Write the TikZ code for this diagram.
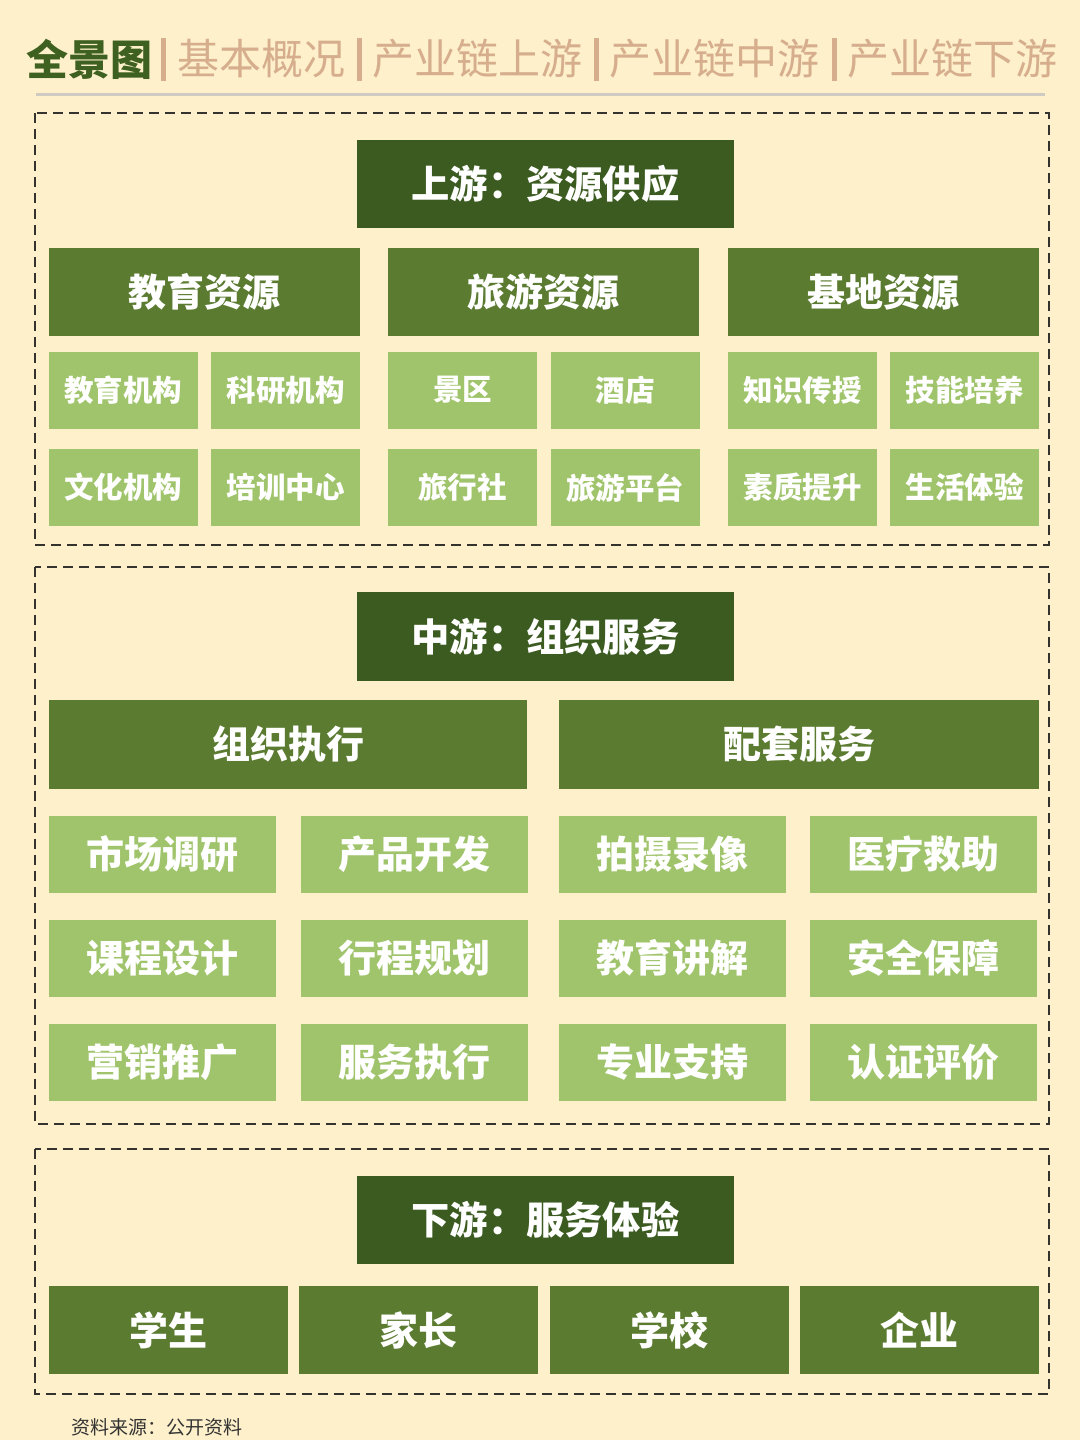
\documentclass[tikz,border=0pt]{standalone}
\usepackage{fontspec}
\setmainfont{Noto Sans CJK SC}
\newfontfamily\cjk{Noto Sans CJK SC}
\definecolor{bg}{HTML}{FDF0CA}
\definecolor{dkgreen}{HTML}{3B5B20}
\definecolor{mdgreen}{HTML}{5B7B31}
\definecolor{ltgreen}{HTML}{A0C46B}
\definecolor{tan}{HTML}{D6AE8E}
\definecolor{hdgreen}{HTML}{3E6020}
\definecolor{rule}{HTML}{CFCBC2}
\definecolor{dash}{HTML}{35332F}
\begin{document}
\begin{tikzpicture}[x=1pt,y=-1pt,
  box/.style={draw=none,inner sep=0pt,text=white,font=\cjk\bfseries},
  titlebox/.style={box,fill=dkgreen},
  midbox/.style={box,fill=mdgreen},
  smallbox/.style={box,fill=ltgreen},
  section/.style={draw=dash,line width=2.4pt,dash pattern=on 10pt off 6pt},
  tabtext/.style={anchor=west,inner sep=0pt,text=tan,font=\cjk\fontsize{42}{42}\selectfont},
  tabbar/.style={draw=tan,line width=5pt}
]
\fill[bg] (0,0) rectangle (1080,1440);
\useasboundingbox (0,0) rectangle (1080,1440);
% header
\node[anchor=west,inner sep=0pt,text=hdgreen,font=\cjk\bfseries\fontsize{42}{42}\selectfont] (h0) at (26,59) {全景图};
\coordinate (b1t) at (163,38); \coordinate (b1b) at (163,81);
\coordinate (b2t) at (359,38); \coordinate (b2b) at (359,81);
\coordinate (b3t) at (596,38); \coordinate (b3b) at (596,81);
\coordinate (b4t) at (834,38); \coordinate (b4b) at (834,81);
\draw[tabbar] (b1t) -- (b1b);
\draw[tabbar] (b2t) -- (b2b);
\draw[tabbar] (b3t) -- (b3b);
\draw[tabbar] (b4t) -- (b4b);
\node[tabtext] (h1) at (177,59) {基本概况};
\node[tabtext] (h2) at (372,59) {产业链上游};
\node[tabtext] (h3) at (609,59) {产业链中游};
\node[tabtext] (h4) at (847,59) {产业链下游};
\coordinate (rl) at (36,94); \coordinate (rr) at (1045,94);
\draw[rule,line width=3pt] (rl) -- (rr);

% sections
\draw[section] (35,113) rectangle (1049,545);
\draw[section] (35,567) rectangle (1049,1124);
\draw[section] (35,1149) rectangle (1049,1394);

% upstream
\node[titlebox,minimum width=377pt,minimum height=88pt,font=\cjk\bfseries\fontsize{38.3}{38}\selectfont] (up) at (545.5,184) {上游：资源供应};
\foreach \n/\t/\x in {u1/教育资源/204.5,u2/旅游资源/543.5,u3/基地资源/883.5}
  \node[midbox,minimum width=311pt,minimum height=88pt,font=\cjk\bfseries\fontsize{38}{38}\selectfont] (\n) at (\x,292) {\t};
\foreach \n/\t/\x/\y in {
  s1/教育机构/123/390, s2/科研机构/285.5/390, s3/景区/462.5/390, s4/酒店/625/390, s5/知识传授/802.5/390, s6/技能培养/964.5/390,
  s7/文化机构/123/487.5, s8/培训中心/285.5/487.5, s9/旅行社/462.5/487.5, s10/旅游平台/625/487.5, s11/素质提升/802.5/487.5, s12/生活体验/964.5/487.5}
  \node[smallbox,minimum width=149pt,minimum height=77pt,font=\cjk\bfseries\fontsize{29.5}{29.5}\selectfont] (\n) at (\x,\y) {\t};

% midstream
\node[titlebox,minimum width=377pt,minimum height=89pt,font=\cjk\bfseries\fontsize{38.3}{38}\selectfont] (mid) at (545.5,636.5) {中游：组织服务};
\node[midbox,minimum width=478pt,minimum height=89pt,font=\cjk\bfseries\fontsize{38}{38}\selectfont] (m1) at (288,744.5) {组织执行};
\node[midbox,minimum width=480pt,minimum height=89pt,font=\cjk\bfseries\fontsize{38}{38}\selectfont] (m2) at (799,744.5) {配套服务};
\foreach \n/\t/\x/\y in {
  t1/市场调研/162.5/854, t2/产品开发/414/854, t3/拍摄录像/672.5/854, t4/医疗救助/923.5/854,
  t5/课程设计/162.5/958, t6/行程规划/414/958, t7/教育讲解/672.5/958, t8/安全保障/923.5/958,
  t9/营销推广/162.5/1062, t10/服务执行/414/1062, t11/专业支持/672.5/1062, t12/认证评价/923.5/1062}
  \node[smallbox,minimum width=227pt,minimum height=77pt,font=\cjk\bfseries\fontsize{38}{38}\selectfont] (\n) at (\x,\y) {\t};

% downstream
\node[titlebox,minimum width=377pt,minimum height=88pt,font=\cjk\bfseries\fontsize{38.3}{38}\selectfont] (down) at (545.5,1219.5) {下游：服务体验};
\foreach \n/\t/\x in {d1/学生/168.5,d2/家长/418.5,d3/学校/669.5,d4/企业/919.5}
  \node[midbox,minimum width=239pt,minimum height=88pt,font=\cjk\bfseries\fontsize{39}{39}\selectfont] (\n) at (\x,1330) {\t};

% footer
\node[anchor=west,inner sep=0pt,text=black!80,font=\cjk\fontsize{19}{19}\selectfont] (src) at (71,1427) {资料来源：公开资料};
\end{tikzpicture}
\end{document}
